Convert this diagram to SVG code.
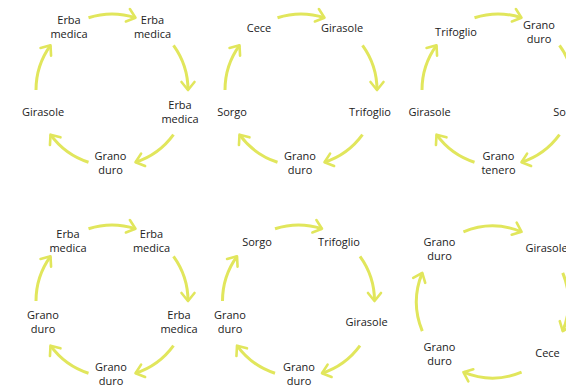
<svg xmlns="http://www.w3.org/2000/svg" width="566" height="386" viewBox="0 0 566 386">
<defs>
<style>
.t{font-family:"Open Sans","Noto Sans","Liberation Sans",sans-serif;font-size:11px;fill:#222;text-anchor:middle}
.a{fill:none;stroke:#e1e65c;stroke-width:3;marker-end:url(#h)}
</style>
<marker id="h" markerUnits="userSpaceOnUse" viewBox="-12 -9 14 18" refX="0" refY="0" markerWidth="14" markerHeight="18" orient="auto">
<path d="M-8,-6.5 L0,0 L-8,6.5" fill="none" stroke="#e1e65c" stroke-width="2.6" stroke-linecap="round" stroke-linejoin="round"/>
</marker>
</defs>
<rect width="566" height="386" fill="#fff"/>

<g id="connectors">
<g transform="translate(112,90)">
<path class="a" d="M-23.49,-72.28 A76,76 0 0 1 23.49,-72.28"/>
<path class="a" d="M61.49,-44.67 A76,76 0 0 1 76,0"/>
<path class="a" d="M61.49,44.67 A76,76 0 0 1 23.49,72.28"/>
<path class="a" d="M-23.49,72.28 A76,76 0 0 1 -61.49,44.67"/>
<path class="a" d="M-76,0 A76,76 0 0 1 -61.49,-44.67"/>
</g>
<g transform="translate(301,90)">
<path class="a" d="M-23.49,-72.28 A76,76 0 0 1 23.49,-72.28"/>
<path class="a" d="M61.49,-44.67 A76,76 0 0 1 76,0"/>
<path class="a" d="M61.49,44.67 A76,76 0 0 1 23.49,72.28"/>
<path class="a" d="M-23.49,72.28 A76,76 0 0 1 -61.49,44.67"/>
<path class="a" d="M-76,0 A76,76 0 0 1 -61.49,-44.67"/>
</g>
<g transform="translate(498,90)">
<path class="a" d="M-23.49,-72.28 A76,76 0 0 1 23.49,-72.28"/>
<path class="a" d="M61.49,-44.67 A76,76 0 0 1 76,0"/>
<path class="a" d="M61.49,44.67 A76,76 0 0 1 23.49,72.28"/>
<path class="a" d="M-23.49,72.28 A76,76 0 0 1 -61.49,44.67"/>
<path class="a" d="M-76,0 A76,76 0 0 1 -61.49,-44.67"/>
</g>
<g transform="translate(112,301)">
<path class="a" d="M-23.49,-72.28 A76,76 0 0 1 23.49,-72.28"/>
<path class="a" d="M61.49,-44.67 A76,76 0 0 1 76,0"/>
<path class="a" d="M61.49,44.67 A76,76 0 0 1 23.49,72.28"/>
<path class="a" d="M-23.49,72.28 A76,76 0 0 1 -61.49,44.67"/>
<path class="a" d="M-76,0 A76,76 0 0 1 -61.49,-44.67"/>
</g>
<g transform="translate(298.5,301)">
<path class="a" d="M-23.49,-72.28 A76,76 0 0 1 23.49,-72.28"/>
<path class="a" d="M61.49,-44.67 A76,76 0 0 1 76,0"/>
<path class="a" d="M61.49,44.67 A76,76 0 0 1 23.49,72.28"/>
<path class="a" d="M-23.49,72.28 A76,76 0 0 1 -61.49,44.67"/>
<path class="a" d="M-76,0 A76,76 0 0 1 -61.49,-44.67"/>
</g>
<g transform="translate(492.5,302)">
<path class="a" d="M-29.08,-70.22 A76,76 0 0 1 29.08,-70.22"/>
<path class="a" d="M70.22,-29.08 A76,76 0 0 1 70.22,29.08"/>
<path class="a" d="M29.08,70.22 A76,76 0 0 1 -29.08,70.22"/>
<path class="a" d="M-70.22,29.08 A76,76 0 0 1 -70.22,-29.08"/>
</g>
</g>

<!-- Panel 1 -->
<g id="p1-n1"><text class="t" x="69" y="24">Erba</text><text class="t" x="69" y="38">medica</text></g>
<g id="p1-n2"><text class="t" x="152.5" y="24">Erba</text><text class="t" x="152.5" y="38">medica</text></g>
<g id="p1-n3"><text class="t" x="180" y="109">Erba</text><text class="t" x="180" y="123">medica</text></g>
<g id="p1-n4"><text class="t" x="110.5" y="160">Grano</text><text class="t" x="110.5" y="174">duro</text></g>
<g id="p1-n5"><text class="t" x="43" y="116">Girasole</text></g>

<!-- Panel 2 -->
<g id="p2-n1"><text class="t" x="259" y="31.5">Cece</text></g>
<g id="p2-n2"><text class="t" x="342" y="31.5">Girasole</text></g>
<g id="p2-n3"><text class="t" x="370" y="116">Trifoglio</text></g>
<g id="p2-n4"><text class="t" x="300" y="160">Grano</text><text class="t" x="300" y="174">duro</text></g>
<g id="p2-n5"><text class="t" x="232" y="116">Sorgo</text></g>

<!-- Panel 3 -->
<g id="p3-n1"><text class="t" x="456" y="36">Trifoglio</text></g>
<g id="p3-n2"><text class="t" x="539" y="29">Grano</text><text class="t" x="539" y="43">duro</text></g>
<g id="p3-n3"><text class="t" x="568" y="116">Sorgo</text></g>
<g id="p3-n4"><text class="t" x="498.5" y="160">Grano</text><text class="t" x="498.5" y="174">tenero</text></g>
<g id="p3-n5"><text class="t" x="429.5" y="116">Girasole</text></g>

<!-- Panel 4 -->
<g id="p4-n1"><text class="t" x="68" y="238">Erba</text><text class="t" x="68" y="252">medica</text></g>
<g id="p4-n2"><text class="t" x="151.5" y="238">Erba</text><text class="t" x="151.5" y="252">medica</text></g>
<g id="p4-n3"><text class="t" x="179" y="318.5">Erba</text><text class="t" x="179" y="332.5">medica</text></g>
<g id="p4-n4"><text class="t" x="111" y="370.5">Grano</text><text class="t" x="111" y="384.5">duro</text></g>
<g id="p4-n5"><text class="t" x="43" y="318.5">Grano</text><text class="t" x="43" y="332.5">duro</text></g>

<!-- Panel 5 -->
<g id="p5-n1"><text class="t" x="257" y="245.5">Sorgo</text></g>
<g id="p5-n2"><text class="t" x="339" y="245.5">Trifoglio</text></g>
<g id="p5-n3"><text class="t" x="366.5" y="325.5">Girasole</text></g>
<g id="p5-n4"><text class="t" x="299" y="370.5">Grano</text><text class="t" x="299" y="384.5">duro</text></g>
<g id="p5-n5"><text class="t" x="230" y="318.5">Grano</text><text class="t" x="230" y="332.5">duro</text></g>

<!-- Panel 6 -->
<g id="p6-n1"><text class="t" x="439.5" y="246">Grano</text><text class="t" x="439.5" y="260">duro</text></g>
<g id="p6-n2"><text class="t" x="546.5" y="251.5">Girasole</text></g>
<g id="p6-n3"><text class="t" x="547.5" y="357">Cece</text></g>
<g id="p6-n4"><text class="t" x="439.5" y="350.5">Grano</text><text class="t" x="439.5" y="364.5">duro</text></g>
</svg>
